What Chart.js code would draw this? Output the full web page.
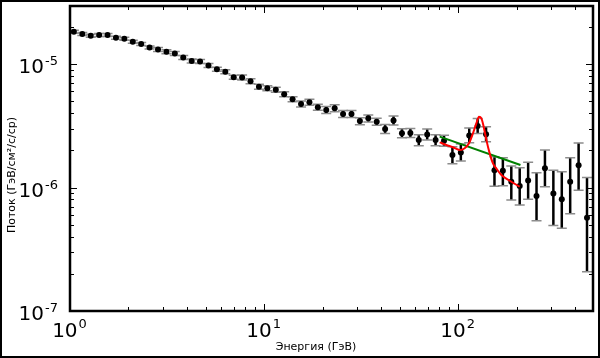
<!DOCTYPE html>
<html>
<head>
<meta charset="utf-8">
<script src="https://cdn.jsdelivr.net/npm/chart.js@4/dist/chart.umd.min.js"></script>
<style>
  body { margin: 0; background: #fff; }
  canvas { display: block; }
</style>
</head>
<body>
<canvas id="spectrum" width="600" height="358"></canvas>
<script>
// energy bins (GeV)
const energy = [1.047, 1.157, 1.279, 1.413, 1.561, 1.725, 1.905, 2.106, 2.327, 2.570,
  2.841, 3.139, 3.467, 3.832, 4.235, 4.679, 5.169, 5.712, 6.311, 6.974,
  7.705, 8.513, 9.408, 10.39, 11.49, 12.69, 14.02, 15.50, 17.12, 18.92,
  20.90, 23.10, 25.52, 28.20, 31.16, 34.43, 38.04, 42.03, 46.44, 51.32,
  56.70, 62.65, 69.23, 76.49, 84.53, 93.39, 103.2, 114.0, 126.0, 139.2,
  153.8, 169.9, 187.8, 207.5, 229.3, 253.3, 279.9, 309.3, 341.8, 377.6,
  417.3, 461.0];

// flux, in units of 1e-6 GeV/cm2/s/sr
const flux = [18.26, 17.49, 16.95, 17.17, 17.17, 16.33, 16.03, 15.16, 14.52, 13.60,
  13.11, 12.55, 12.16, 11.29, 10.58, 10.48, 9.72, 9.06, 8.66, 7.82,
  7.77, 7.26, 6.55, 6.37, 6.19, 5.68, 5.19, 4.74, 4.91, 4.46,
  4.24, 4.38, 3.94, 3.94, 3.45, 3.63, 3.41, 2.98, 3.49, 2.75,
  2.76, 2.42, 2.69, 2.42, 2.39, 1.83, 1.92, 2.64, 3.15, 2.70,
  1.378, 1.365, 1.114, 1.028, 1.139, 0.853, 1.430, 0.894, 0.802, 1.114,
  1.515, 0.568];
const fluxHi = [18.78, 17.99, 17.43, 17.66, 17.66, 16.79, 16.49, 15.59, 14.93, 13.99,
  13.61, 13.03, 12.62, 11.72, 10.98, 10.88, 10.09, 9.40, 8.99, 8.12,
  8.14, 7.61, 6.86, 6.67, 6.49, 5.95, 5.44, 5.01, 5.19, 4.72,
  4.52, 4.67, 4.20, 4.20, 3.68, 3.87, 3.64, 3.24, 3.79, 2.99,
  3.00, 2.68, 2.98, 2.68, 2.65, 2.14, 2.25, 3.04, 3.62, 3.11,
  1.772, 1.739, 1.493, 1.446, 1.603, 1.317, 2.012, 1.380, 1.342, 1.742,
  2.297, 1.206];
const fluxLo = [17.76, 17.01, 16.48, 16.70, 16.70, 15.88, 15.59, 14.74, 14.12, 13.22,
  12.63, 12.09, 11.71, 10.88, 10.19, 10.10, 9.36, 8.73, 8.34, 7.53,
  7.42, 6.93, 6.25, 6.08, 5.91, 5.42, 4.95, 4.48, 4.64, 4.22,
  3.97, 4.10, 3.69, 3.69, 3.23, 3.40, 3.20, 2.74, 3.21, 2.53,
  2.54, 2.18, 2.43, 2.18, 2.16, 1.56, 1.64, 2.30, 2.74, 2.35,
  1.022, 1.032, 0.792, 0.721, 0.804, 0.538, 1.016, 0.492, 0.467, 0.613,
  0.950, 0.208];

// line + power-law fit (red)
const lineFitE = [80.3, 86.9, 94.0, 101.8, 108.0, 113.7, 119.2, 124.1, 128.0, 131.7,
  135.3, 139.8, 145.3, 151.1, 157.9, 167.0, 184.3, 207.5];
const lineFitFlux = [2.32, 2.21, 2.12, 2.01, 2.08, 2.28, 2.75, 3.31, 3.74, 3.63,
  3.11, 2.42, 1.89, 1.570, 1.412, 1.262, 1.135, 1.015];

// power-law only fit (green)
const powFitE = [80.3, 209.3];
const powFitFlux = [2.58, 1.521];

const xTicks = [1, 10, 100];
const yTicks = [1e-7, 1e-6, 1e-5];
const xTickExp = ['0', '1', '2'];
const yTickExp = ['-7', '-6', '-5'];

const U = 1e-6;
const toPts = (xs, ys) => xs.map((x, i) => ({ x: x, y: ys[i] * U }));

const BIG = '20px "DejaVu Sans"';
const SMALL = '13px "DejaVu Sans"';

const decor = {
  id: 'decor',
  beforeDraw(chart) {
    const ctx = chart.ctx;
    ctx.save();
    ctx.fillStyle = '#fff';
    ctx.fillRect(0, 0, chart.width, chart.height);
    ctx.restore();
  },
  beforeDatasetsDraw(chart) {
    // error bars
    const ctx = chart.ctx, xs = chart.scales.x, ys = chart.scales.y, a = chart.chartArea;
    ctx.save();
    ctx.beginPath();
    ctx.rect(a.left, a.top, a.right - a.left, a.bottom - a.top);
    ctx.clip();
    energy.forEach((e, i) => {
      const px = xs.getPixelForValue(e);
      const top = ys.getPixelForValue(fluxHi[i] * U);
      const bot = ys.getPixelForValue(fluxLo[i] * U);
      ctx.strokeStyle = '#000';
      ctx.lineWidth = 2.5;
      ctx.beginPath();
      ctx.moveTo(px, top);
      ctx.lineTo(px, bot);
      ctx.stroke();
      ctx.strokeStyle = '#8c8c8c';
      ctx.lineWidth = 1.5;
      ctx.beginPath();
      ctx.moveTo(px - 5, top); ctx.lineTo(px + 5, top);
      ctx.moveTo(px - 5, bot); ctx.lineTo(px + 5, bot);
      ctx.stroke();
    });
    ctx.restore();
  },
  afterDatasetsDraw(chart) {
    const ctx = chart.ctx, xs = chart.scales.x, ys = chart.scales.y, a = chart.chartArea;
    ctx.save();
    ctx.strokeStyle = '#000';
    ctx.lineWidth = 1;
    // inward ticks on all four sides
    for (let d = -8; d <= 3; d++) {
      for (let m = 1; m <= 9; m++) {
        const v = m * Math.pow(10, d);
        const len = m === 1 ? 7 : 4;
        if (v >= xs.min && v <= xs.max) {
          const px = Math.round(xs.getPixelForValue(v)) + 0.5;
          ctx.beginPath();
          ctx.moveTo(px, a.bottom); ctx.lineTo(px, a.bottom - len);
          ctx.moveTo(px, a.top); ctx.lineTo(px, a.top + len);
          ctx.stroke();
        }
        if (v >= ys.min && v <= ys.max) {
          const py = Math.round(ys.getPixelForValue(v)) + 0.5;
          ctx.beginPath();
          ctx.moveTo(a.left, py); ctx.lineTo(a.left + len, py);
          ctx.moveTo(a.right, py); ctx.lineTo(a.right - len, py);
          ctx.stroke();
        }
      }
    }
    ctx.lineWidth = 2.5;
    ctx.strokeRect(a.left, a.top, a.right - a.left, a.bottom - a.top);

    // tick labels: 10 with a raised exponent
    ctx.fillStyle = '#000';
    ctx.textBaseline = 'alphabetic';
    ctx.textAlign = 'left';
    xTicks.forEach((v, i) => {
      const px = xs.getPixelForValue(v);
      ctx.font = BIG;
      const wb = ctx.measureText('10').width;
      ctx.font = SMALL;
      const we = ctx.measureText(xTickExp[i]).width;
      const x0 = px - (wb + we) / 2 - 1;
      ctx.font = BIG;
      ctx.fillText('10', x0, a.bottom + 26);
      ctx.font = SMALL;
      ctx.fillText(xTickExp[i], x0 + wb + 1, a.bottom + 17);
    });
    yTicks.forEach((v, i) => {
      const py = ys.getPixelForValue(v);
      ctx.font = SMALL;
      const we = ctx.measureText(yTickExp[i]).width;
      ctx.font = BIG;
      const wb = ctx.measureText('10').width;
      const x0 = 58 - we - wb - 1;
      ctx.fillText('10', x0, py + 9);
      ctx.font = SMALL;
      ctx.fillText(yTickExp[i], x0 + wb + 1, py + 1);
    });
    ctx.restore();
  },
  afterDraw(chart) {
    const ctx = chart.ctx;
    ctx.save();
    ctx.fillStyle = '#000';
    ctx.font = '11px "DejaVu Sans"';
    ctx.textAlign = 'center';
    ctx.textBaseline = 'middle';
    ctx.fillText('Энергия (ГэВ)', 316, 347);
    ctx.translate(12, 175);
    ctx.rotate(-Math.PI / 2);
    ctx.fillText('Поток (ГэВ/см²/с/ср)', 0, 0);
    ctx.restore();
    ctx.save();
    ctx.strokeStyle = '#000';
    ctx.lineWidth = 2;
    ctx.strokeRect(1, 1, chart.width - 2, chart.height - 2);
    ctx.restore();
  }
};

new Chart(document.getElementById('spectrum'), {
  type: 'scatter',
  data: {
    datasets: [
      {
        label: 'line fit',
        data: toPts(lineFitE, lineFitFlux),
        showLine: true,
        borderColor: '#ff0000',
        borderWidth: 2,
        pointRadius: 0,
        cubicInterpolationMode: 'monotone',
        order: 0
      },
      {
        label: 'power law',
        data: toPts(powFitE, powFitFlux),
        showLine: true,
        borderColor: '#008000',
        borderWidth: 2,
        pointRadius: 0,
        order: 1
      },
      {
        label: 'data',
        data: toPts(energy, flux),
        pointRadius: 3,
        pointBackgroundColor: '#000',
        pointBorderWidth: 0,
        order: 2
      }
    ]
  },
  plugins: [decor],
  options: {
    responsive: false,
    animation: false,
    layout: { padding: { top: 6, right: 7, left: 0, bottom: 0 } },
    plugins: { legend: { display: false }, tooltip: { enabled: false } },
    scales: {
      x: {
        type: 'logarithmic',
        min: 1,
        max: 495,
        grid: { display: false, drawTicks: false },
        border: { display: false },
        ticks: { display: false },
        afterFit: s => { s.height = 47; s.paddingLeft = 0; s.paddingRight = 0; },
        afterBuildTicks: s => { s.ticks = xTicks.map(v => ({ value: v })); }
      },
      y: {
        type: 'logarithmic',
        min: 1e-7,
        max: 2.95e-5,
        grid: { display: false, drawTicks: false },
        border: { display: false },
        ticks: { display: false },
        afterFit: s => { s.width = 70; s.paddingTop = 0; s.paddingBottom = 0; },
        afterBuildTicks: s => { s.ticks = yTicks.map(v => ({ value: v })); }
      }
    }
  }
});
</script>
</body>
</html>
